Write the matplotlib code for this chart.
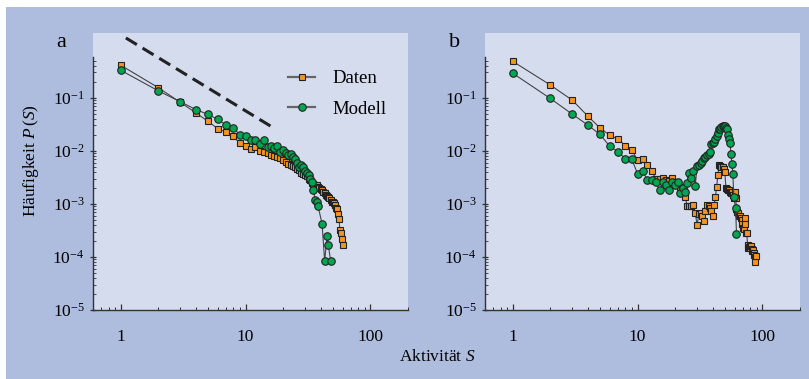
import numpy as np
import matplotlib.pyplot as plt
from matplotlib.patches import Rectangle
from matplotlib.ticker import FixedLocator, FuncFormatter, NullFormatter

plt.rcParams['font.family'] = ['Liberation Serif', 'DejaVu Serif']
plt.rcParams['mathtext.fontset'] = 'custom'
plt.rcParams['mathtext.rm'] = 'Liberation Serif'
plt.rcParams['mathtext.it'] = 'Liberation Serif:italic'

# Panel a - Daten
a_daten_s = list(range(1, 61))
a_daten_p = [0.41, 0.155, 0.082, 0.052, 0.036, 0.026, 0.0225, 0.0187, 0.0138, 0.0124,
             0.011, 0.0116, 0.0099, 0.0095, 0.0089, 0.0084, 0.0081, 0.0075, 0.0074, 0.0067,
             0.0062, 0.0057, 0.0053, 0.0051, 0.0049, 0.0045, 0.0043, 0.0039, 0.0037, 0.0035,
             0.0033, 0.0030, 0.0028, 0.0025, 0.0024, 0.0023, 0.00225, 0.0021, 0.0020, 0.0019,
             0.0018, 0.0017, 0.0016, 0.0015, 0.0014, 0.00135, 0.0013, 0.0012, 0.00107, 0.0011,
             0.00105, 0.00095, 0.00085, 0.0008, 0.00064, 0.00052, 0.00032, 0.00028, 0.00022, 0.00017]

# Panel a - Modell
a_modell_s = list(range(1, 39)) + [41, 43, 45, 46, 48]
a_modell_p = [0.33, 0.135, 0.084, 0.06, 0.0486, 0.039, 0.0305, 0.027, 0.02, 0.0192,
              0.016, 0.016, 0.0134, 0.016, 0.0119, 0.0122, 0.0111, 0.0124, 0.0096, 0.0103,
              0.0089, 0.0083, 0.0086, 0.0078, 0.0069, 0.006, 0.005, 0.0053, 0.005, 0.0042,
              0.0038, 0.0035, 0.0029, 0.0026, 0.0018, 0.00118, 0.0011, 0.00093,
              0.00042, 8.4e-5, 0.00025, 0.00017, 8.4e-5]

# Panel b - Daten
b_daten_s = list(range(1, 90))
b_daten_p = [0.486, 0.174, 0.09, 0.045, 0.027, 0.0195, 0.0166, 0.0124, 0.0103, 0.0067,
             0.0069, 0.0055, 0.0041, 0.003, 0.0029, 0.0031, 0.0028, 0.0027, 0.0031, 0.0026,
             0.0025, 0.0021, 0.0019, 0.00134, 0.00093, 0.0009, 0.00092, 0.00094, 0.00066, 0.0004,
             0.00065, 0.00068, 0.0006, 0.00047, 0.00075, 0.00095, 0.0009, 0.00085, 0.00075, 0.0006,
             0.00095, 0.00135, 0.0021, 0.0035, 0.0055, 0.0052, 0.005, 0.0049, 0.0045, 0.004,
             0.002, 0.0019, 0.0018, 0.0018, 0.0017, 0.0016, 0.0017, 0.0015, 0.0013, 0.0017,
             0.0013, 0.0008, 0.0007, 0.00068, 0.0006, 0.0006, 0.00055, 0.0005, 0.00041, 0.00035,
             0.00033, 0.00054, 0.00041, 0.00028, 0.00028, 0.00017, 0.000148, 0.000155, 0.00016, 0.00015,
             0.000158, 0.00014, 0.00013, 0.000135, 0.00012, 0.00011, 0.0001, 8.2e-5, 0.000105]

# Panel b - Modell
b_modell_s = list(range(1, 60)) + [61, 62]
b_modell_p = [0.29, 0.097, 0.049, 0.0305, 0.0204, 0.0121, 0.0096, 0.007, 0.0069, 0.0037,
              0.0041, 0.0028, 0.0028, 0.0026, 0.0018, 0.0026, 0.0023, 0.0018, 0.0026, 0.0023,
              0.0026, 0.0016, 0.002, 0.0017, 0.0025, 0.0038, 0.0031, 0.0041, 0.0022, 0.0052,
              0.0055, 0.006, 0.0064, 0.0074, 0.0078, 0.0083, 0.0088, 0.0096, 0.0136, 0.0142,
              0.0148, 0.017, 0.019, 0.022, 0.0253, 0.026, 0.028, 0.029, 0.0292, 0.029,
              0.027, 0.0253, 0.0198, 0.0165, 0.0141, 0.0086, 0.0057, 0.0036, 0.00135,
              0.00082, 0.00027]

# power-law guide line (panel a)
guide_s = [1.1, 17.5]
guide_p = [1.34, 0.0254]

orange = '#F7941E'
green = '#00A651'
outer_bg = '#AEBDDE'
inner_bg = '#D5DCEE'

fig = plt.figure(figsize=(8.09, 3.79), dpi=100)
fig.patches.append(Rectangle((6 / 809, 0), 1 - 6 / 809, 1 - 7 / 379,
                             transform=fig.transFigure, facecolor=outer_bg,
                             edgecolor='none', zorder=-10))

ax_a = fig.add_axes([93 / 809, 1 - 310 / 379, 315 / 809, 277 / 379])
ax_b = fig.add_axes([485 / 809, 1 - 310 / 379, 315 / 809, 277 / 379])

major_y = [1e-5, 1e-4, 1e-3, 1e-2, 1e-1]
minor_y = [k * 10.0 ** e for e in range(-5, 0) for k in range(2, 10) if k * 10.0 ** e < 0.58]


def style(ax):
    ax.set_facecolor(inner_bg)
    ax.set_xscale('log')
    ax.set_yscale('log')
    ax.set_xlim(0.6, 200)
    ax.set_ylim(1e-5, 1.66)
    for side in ['top', 'right']:
        ax.spines[side].set_visible(False)
    for side in ['left', 'bottom']:
        ax.spines[side].set_color('#333333')
        ax.spines[side].set_linewidth(1.0)
    ax.spines['left'].set_bounds(1e-5, 0.58)
    ax.yaxis.set_major_locator(FixedLocator(major_y))
    ax.yaxis.set_minor_locator(FixedLocator(minor_y))
    ax.yaxis.set_major_formatter(FuncFormatter(lambda v, p: r'$10^{%d}$' % round(np.log10(v))))
    ax.yaxis.set_minor_formatter(NullFormatter())
    ax.xaxis.set_major_locator(FixedLocator([1, 10, 100]))
    ax.xaxis.set_minor_locator(FixedLocator([k * 10.0 ** e for e in range(-1, 3)
                                             for k in range(2, 10) if 0.6 <= k * 10.0 ** e <= 200]))
    ax.xaxis.set_major_formatter(FuncFormatter(lambda v, p: '%d' % v))
    ax.xaxis.set_minor_formatter(NullFormatter())
    ax.tick_params(axis='x', which='major', direction='in', length=4, width=0.9,
                   color='#333333', labelsize=12.5, pad=14)
    ax.tick_params(axis='x', which='minor', direction='in', length=2.5, width=0.7, color='#333333')
    ax.tick_params(axis='y', which='major', direction='inout', length=4, width=0.9,
                   color='#333333', labelsize=12.5, pad=4)
    ax.tick_params(axis='y', which='minor', direction='in', length=2, width=0.6, color='#333333')


def series(ax, s, p, marker, color, ms, label):
    ax.plot(s, p, color='#444444', lw=0.8, marker=marker, ms=ms, mfc=color,
            mec='#222222', mew=0.8, label=label)


for ax in (ax_a, ax_b):
    style(ax)

series(ax_a, a_daten_s, a_daten_p, 's', orange, 5.0, 'Daten')
series(ax_a, a_modell_s, a_modell_p, 'o', green, 5.4, 'Modell')
ax_a.plot(guide_s, guide_p, color='#222222', lw=2.2, dashes=(4.2, 2.2))

series(ax_b, b_daten_s, b_daten_p, 's', orange, 5.0, 'Daten')
series(ax_b, b_modell_s, b_modell_p, 'o', green, 5.4, 'Modell')

leg = ax_a.legend(loc='upper left', bbox_to_anchor=(0.62, 0.866), frameon=False,
                  fontsize=13.5, handlelength=1.45, handletextpad=0.9,
                  labelspacing=0.72, borderpad=0, borderaxespad=0)
for h in leg.get_lines():
    h.set_color('#666666')
    h.set_linewidth(1.6)

fig.text(61 / 809, 1 - 47 / 379, 'a', fontsize=16, ha='center', va='baseline')
fig.text(455 / 809, 1 - 47 / 379, 'b', fontsize=16, ha='center', va='baseline')
fig.text(31 / 809, 1 - 161 / 379, r'Häufigkeit $P\,(S)$', fontsize=12.5,
         rotation=90, ha='center', va='center')
fig.text(437 / 809, 1 - 357 / 379, r'Aktivität $S$', fontsize=12.5,
         ha='center', va='center')

fig.savefig('out.png', dpi=100, facecolor='white')
